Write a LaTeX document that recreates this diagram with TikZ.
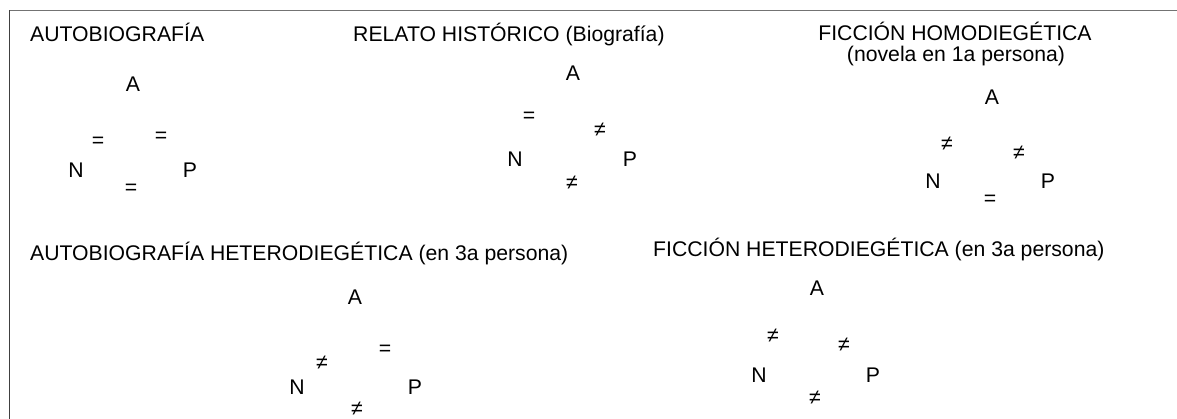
\documentclass[tikz,border=0pt]{standalone}
\usepackage{fontspec}
\setmainfont{Liberation Sans}
\begin{document}
\begin{tikzpicture}[x=1pt,y=-1pt,
  lbl/.style={inner sep=0pt,anchor=base,font=\fontsize{21.2}{25}\selectfont},
  ttl/.style={inner sep=0pt,anchor=base west,font=\fontsize{21.2}{25}\selectfont},
  ttlc/.style={inner sep=0pt,anchor=base,font=\fontsize{21.2}{25}\selectfont},
  frame/.style={line width=1.4pt}]
\useasboundingbox (0,0) rectangle (1177,419);
\fill[white] (0,0) rectangle (1177,419);
% frame (left and top)
\coordinate (fTL) at (9.5,10.5);
\coordinate (fTR) at (1177,10.5);
\coordinate (fBL) at (9.5,419);
\draw[frame,color=black!55] (fTL) -- (fTR);
\draw[frame,color=black!75] (fTL) -- (fBL);

% Panel 1
\node[ttl] (t1) at (30,41.5) {AUTOBIOGRAFÍA};
\node[lbl] (a1) at (133,92) {A};
\node[lbl] (an1) at (98,147.5) {=};
\node[lbl] (ap1) at (161,142.5) {=};
\node[lbl] (n1) at (76,178) {N};
\node[lbl] (p1) at (190,178) {P};
\node[lbl] (np1) at (131,194.5) {=};

% Panel 2
\node[ttl] (t2) at (353,41.5) {RELATO HISTÓRICO (Biografía)};
\node[lbl] (a2) at (573,81) {A};
\node[lbl] (an2) at (529,122.5) {=};
\node[lbl] (ap2) at (600,136.5) {≠};
\node[lbl] (n2) at (515,167) {N};
\node[lbl] (p2) at (630,167) {P};
\node[lbl] (np2) at (572,189.5) {≠};

% Panel 3
\node[ttlc] (t3) at (955,41) {FICCIÓN HOMODIEGÉTICA};
\node[ttlc] (t3b) at (956,62) {(novela en 1a persona)};
\node[lbl] (a3) at (992,105) {A};
\node[lbl] (an3) at (947,150.5) {≠};
\node[lbl] (ap3) at (1019,159.5) {≠};
\node[lbl] (n3) at (933,189) {N};
\node[lbl] (p3) at (1048,189) {P};
\node[lbl] (np3) at (990,205.5) {=};

% Panel 4
\node[ttl] (t4) at (30,261) {AUTOBIOGRAFÍA HETERODIEGÉTICA (en 3a persona)};
\node[lbl] (a4) at (355,305) {A};
\node[lbl] (ap4) at (385,355.5) {=};
\node[lbl] (an4) at (322,369.5) {≠};
\node[lbl] (n4) at (297,394) {N};
\node[lbl] (p4) at (415,394) {P};
\node[lbl] (np4) at (357,415.5) {≠};

% Panel 5
\node[ttl] (t5) at (653,257) {FICCIÓN HETERODIEGÉTICA (en 3a persona)};
\node[lbl] (a5) at (817,296) {A};
\node[lbl] (an5) at (773,342.5) {≠};
\node[lbl] (ap5) at (844,351.5) {≠};
\node[lbl] (n5) at (759,382) {N};
\node[lbl] (p5) at (873,382) {P};
\node[lbl] (np5) at (815,404.5) {≠};
\end{tikzpicture}
\end{document}
